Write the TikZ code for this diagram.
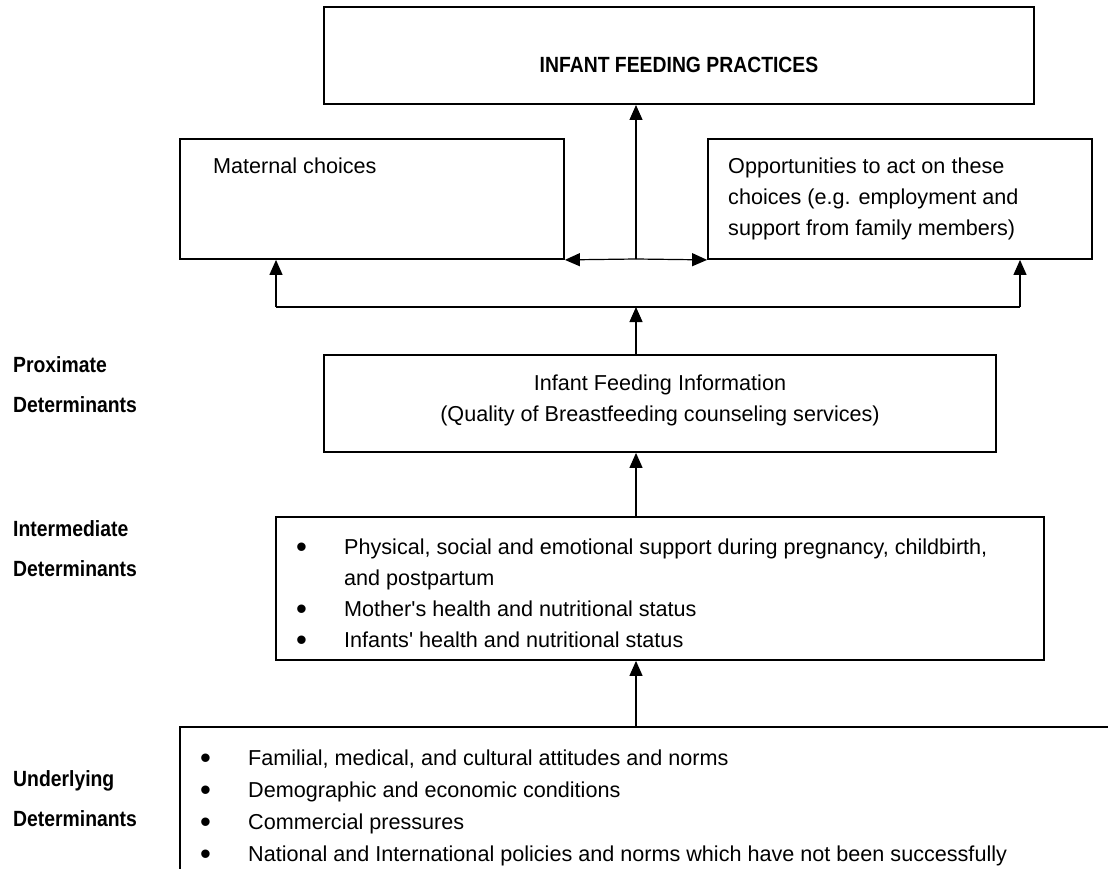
\documentclass[tikz,border=0pt]{standalone}
\usepackage{fontspec}
\setmainfont{Liberation Sans}
\newfontfamily\lblfamily{Liberation Sans}[FakeStretch=0.88]
\usetikzlibrary{arrows.meta,positioning}
\newcommand\txtfont{\fontsize{21.6}{31}\selectfont}
\newcommand\lblfont{\lblfamily\bfseries\fontsize{22}{40.5}\selectfont}
\newcommand\blt{\raisebox{-3pt}{\fontsize{31}{31}\selectfont\textbullet}}
\tikzset{
  box/.style  = {draw, line width=1.8pt, inner sep=0pt},
  link/.style = {line width=1.2pt},
  arr/.style  = {link, -{Triangle[length=15pt,width=13pt]}},
  txt/.style  = {inner sep=0pt, font=\txtfont},
  lbl/.style  = {inner sep=0pt, anchor=base west, font=\lblfont},
}

\begin{document}
\begin{tikzpicture}[x=1pt,y=-1pt]
  \useasboundingbox (0,0) rectangle (1108,869);
  \clip (0,0) rectangle (1108,869);
  % boxes
  \node[box, line width=2pt, minimum width=710pt, minimum height=97pt] (practices) at (679,55.5) {};
  \node[box, minimum width=384pt, minimum height=120pt] (maternal) at (372,199) {};
  \node[box, minimum width=384pt, minimum height=120pt] (chance) at (900,199) {};
  \node[box, minimum width=672pt, minimum height=97pt] (info) at (660,403.5) {};
  \node[box, minimum width=768pt, minimum height=143pt] (inter) at (660,588.5) {};
  \node[box, line width=2pt, minimum width=1020pt, minimum height=300pt] (under) at (690,877) {};

  % texts in the boxes
  \node[txt, anchor=base, font=\lblfont] (practicestxt) at (679,73) {INFANT FEEDING PRACTICES};
  \node[txt, anchor=base west] (maternaltxt) at (213,174) {Maternal choices};
  \node[txt, anchor=base west] (chancetxt) at (728,174) {\begin{tabular}[t]{@{}l@{}}
      Opportunities to act on these\\
      choices (e.g. employment and\\
      support from family members)
    \end{tabular}};
  \node[txt, anchor=base] (infotxt) at (660,390.5) {\begin{tabular}[t]{@{}c@{}}
      Infant Feeding Information\\
      (Quality of Breastfeeding counseling services)
    \end{tabular}};
  \node[txt, anchor=base west] (intertxt) at (296,554) {\begin{tabular}[t]{@{}p{48pt}@{}l@{}}
      \blt & Physical, social and emotional support during pregnancy, childbirth,\\
           & and postpartum\\
      \blt & Mother\textquotesingle s health and nutritional status\\
      \blt & Infants\textquotesingle\ health and nutritional status
    \end{tabular}};
  \node[txt, anchor=base west, font=\fontsize{21.6}{32}\selectfont] (undertxt) at (200,765) {\begin{tabular}[t]{@{}p{48pt}@{}l@{}}
      \blt & Familial, medical, and cultural attitudes and norms\\
      \blt & Demographic and economic conditions\\
      \blt & Commercial pressures\\
      \blt & National and International policies and norms which have not been successfully
    \end{tabular}};

  % level labels
  \node[lbl] (proxtag) at (13,372) {\begin{tabular}[t]{@{}l@{}}Proximate\\ Determinants\end{tabular}};
  \node[lbl] (intertag) at (13,536) {\begin{tabular}[t]{@{}l@{}}Intermediate\\ Determinants\end{tabular}};
  \node[lbl] (undertag) at (13,786) {\begin{tabular}[t]{@{}l@{}}Underlying\\ Determinants\end{tabular}};

  % connectors
  \coordinate (split) at (636,259);
  \coordinate (fork) at (636,307);
  \coordinate (mleg) at (276,307);
  \coordinate (cleg) at (1020,307);
  \draw[arr] (split) -- (split |- practices.south);
  \draw[arr] (split) -- (maternal.south east);
  \draw[arr] (split) -- (chance.south west);
  \draw[link] (mleg) -- (cleg);
  \draw[arr] (mleg) -- (mleg |- maternal.south);
  \draw[arr] (cleg) -- (cleg |- chance.south);
  \draw[arr] (fork |- info.north) -- (fork);
  \draw[arr] (fork |- inter.north) -- (fork |- info.south);
  \draw[arr] (fork |- under.north) -- (fork |- inter.south);
\end{tikzpicture}
\end{document}
